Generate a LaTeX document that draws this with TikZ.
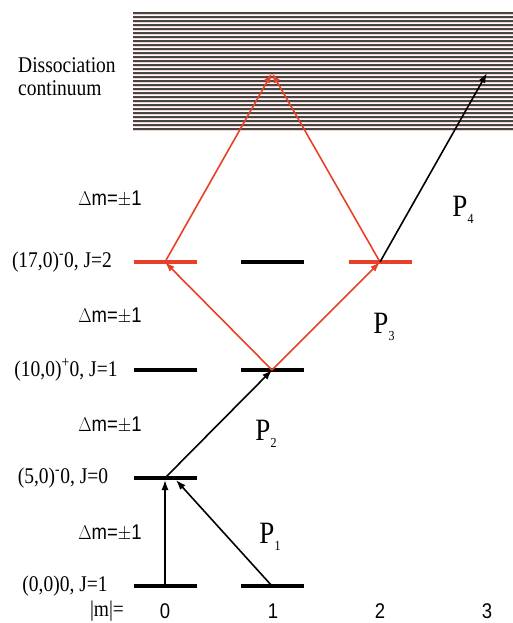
\documentclass[tikz,border=0pt]{standalone}
\usepackage{fontspec}
\setmainfont{Liberation Serif}
\newfontfamily\arialf{Liberation Sans}
\usetikzlibrary{arrows.meta}
\definecolor{lred}{RGB}{232,64,40}
\definecolor{cgray}{RGB}{70,70,70}
\newcommand{\vstr}[1]{\scalebox{1}[1.15]{#1}}
\newcommand{\plabel}[1]{\vstr{P\raisebox{-6pt}{\fontsize{12}{12}\selectfont #1}}}
\begin{document}
\begin{tikzpicture}[x=1pt,y=-1pt,
  lvl/.style={fill=black, inner sep=0, minimum width=63pt, minimum height=3.6pt},
  rlvl/.style={lvl, fill=lred},
  arr/.style={line width=1.6pt, -{Latex[length=10pt,width=7pt]}},
  rarr/.style={arr, draw=lred},
  lab/.style={font=\fontsize{19.5}{22}\selectfont, inner sep=0},
  dm/.style={font=\arialf\fontsize{18.5}{22}\selectfont, inner sep=0},
  plab/.style={font=\fontsize{27}{27}\selectfont, inner sep=0}]
\useasboundingbox (0,0) rectangle (513,623);
% dissociation continuum
\foreach \i in {0,...,29} {
  \draw[lred!25, line width=0.9pt] (133,{13+4*\i+1.6}) -- (513,{13+4*\i+1.6});
  \draw[cgray, line width=1.4pt] (133,{13+4*\i}) -- (513,{13+4*\i});
}
\node[lab, anchor=west] (dis1) at (18,65) {\vstr{Dissociation}};
\node[lab, anchor=west] (dis2) at (18,88) {\vstr{continuum}};
% levels
\node[lvl] (a0) at (165,586) {};
\node[lvl] (a1) at (272,586) {};
\node[lvl] (b0) at (165,478) {};
\node[lvl] (c0) at (165,370) {};
\node[lvl] (c1) at (272,370) {};
\node[rlvl] (d0) at (165,262) {};
\node[lvl] (d1) at (272,262) {};
\node[rlvl] (d2) at (380,262) {};
% level labels
\node[lab] (la) at (65,586) {\vstr{(0,0)0, J=1}};
\node[lab] (lb) at (63,478) {\vstr{(5,0)\textsuperscript{-}0, J=0}};
\node[lab] (lc) at (66,370) {\vstr{(10,0)\textsuperscript{+}0, J=1}};
\node[lab] (ld) at (62,262) {\vstr{(17,0)\textsuperscript{-}0, J=2}};
% delta m labels
\node[dm] (dm1) at (110,533) {\vstr{$\Delta$m=$\pm$1}};
\node[dm] (dm2) at (110,425) {\vstr{$\Delta$m=$\pm$1}};
\node[dm] (dm3) at (110,316) {\vstr{$\Delta$m=$\pm$1}};
\node[dm] (dm4) at (110,199) {\vstr{$\Delta$m=$\pm$1}};
% m row
\node[lab] (mlab) at (107,611) {\vstr{|m|=}};
\node[dm] (m0) at (165,611) {\vstr{0}};
\node[dm] (m1) at (273,611) {\vstr{1}};
\node[dm] (m2) at (380,611) {\vstr{2}};
\node[dm] (m3) at (487,611) {\vstr{3}};
% P labels
\node[plab] (P1) at (270,537) {\plabel{1}};
\node[plab] (P2) at (266,434) {\plabel{2}};
\node[plab] (P3) at (384,327) {\plabel{3}};
\node[plab] (P4) at (463,210) {\plabel{4}};
% arrow end points
\coordinate (p1end) at (176,480);
\coordinate (topc) at (272,73);
\coordinate (topd) at (487,73);
% transitions
\draw[arr] (a0.center) -- (b0.south);
\draw[arr] (a1.center) -- (p1end);
\draw[arr] (b0.center) -- (c1.center);
\draw[rarr] (c1.center) -- (d0.center);
\draw[rarr] (c1.center) -- (d2.center);
\draw[rarr] (d0.center) -- (topc);
\draw[rarr] (d2.center) -- (topc);
\draw[arr] (d2.center) -- (topd);
\end{tikzpicture}
\end{document}
